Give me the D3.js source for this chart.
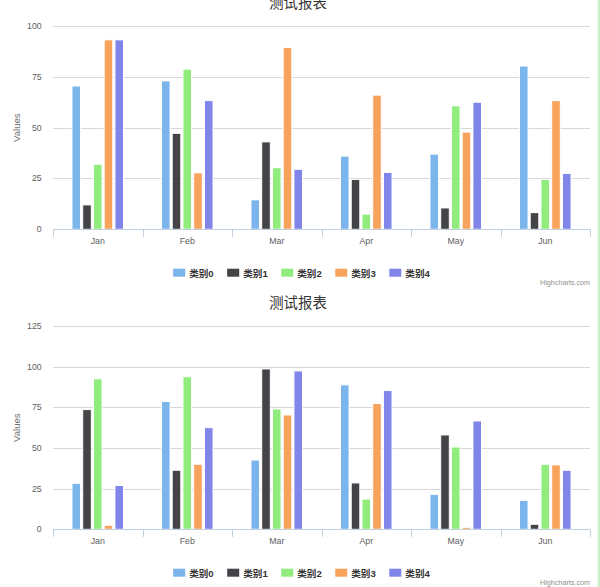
<!DOCTYPE html>
<html>
<head>
<meta charset="utf-8">
<script src="https://cdn.jsdelivr.net/npm/d3@7"></script>
<style>
  body { margin: 0; background: #fff; overflow: hidden; }
  svg { display: block; }
</style>
</head>
<body>
<div id="chart"></div>
<script>
// #####################################################
// Data
//
var months = ["Jan", "Feb", "Mar", "Apr", "May", "Jun"];
var seriesNames = ["类别0", "类别1", "类别2", "类别3", "类别4"];
var chartTitle = "测试报表";
var yTitle = "Values";

// first report
var top0 = [70.5, 73, 14.5, 36, 37, 80.3];
var top1 = [12, 47.2, 43, 24.5, 10.5, 8.2];
var top2 = [32, 78.8, 30.3, 7.5, 60.7, 24.5];
var top3 = [93.2, 27.8, 89.5, 66, 47.8, 63.3];
var top4 = [93.2, 63.3, 29.5, 28, 62.5, 27.5];
var topTicks = [0, 25, 50, 75, 100];

// second report
var bottom0 = [28.3, 78.6, 42.6, 88.8, 21.5, 17.8];
var bottom1 = [73.6, 36.3, 98.6, 28.5, 58, 3.1];
var bottom2 = [92.5, 93.8, 74, 18.6, 50.6, 40];
var bottom3 = [2.5, 40, 70.3, 77.3, 1.2, 39.6];
var bottom4 = [26.9, 62.5, 97.4, 85.3, 66.6, 36.3];
var bottomTicks = [0, 25, 50, 75, 100, 125];

var colors = ["#7cb5ec", "#434348", "#90ed7d", "#f7a35c", "#8085e9"];
var latinFont = "'Liberation Sans', Arial, 'Noto Sans CJK SC', sans-serif";

var width = 600, height = 587;

var svg = d3.select("#chart").append("svg")
    .attr("width", width)
    .attr("height", height);

// thin green strip on the right edge of the page
svg.append("rect")
    .attr("x", 597.7).attr("y", 0)
    .attr("width", 3).attr("height", height)
    .style("fill", "#c8efcb");

// #####################################################
// Draw one column chart, offset vertically by dy
//
function plot_chart (series, ticks, dy) {
  var margin = {left: 53, right: 590, top: 26, bottom: 229.3};

  var g = svg.append("g")
      .attr("transform", "translate(0," + dy + ")");

  var x = d3.scaleBand()
      .domain(months)
      .range([margin.left, margin.right]);

  var xs = d3.scaleBand()
      .domain(seriesNames)
      .range([x.bandwidth() * 0.2, x.bandwidth() * 0.8])
      .paddingInner(0.2)
      .paddingOuter(0.1);

  var y = d3.scaleLinear()
      .domain([0, d3.max(ticks)])
      .range([margin.bottom, margin.top]);

  // title (the top one is partly scrolled out of view, as in the page)
  g.append("text")
      .attr("x", 298).attr("y", 8)
      .attr("text-anchor", "middle")
      .style("font-family", "'Noto Sans CJK SC', sans-serif")
      .style("font-size", "14.4px")
      .style("fill", "#333333")
      .text(chartTitle);

  // grid lines
  g.selectAll(".grid")
      .data(ticks)
      .enter().append("line")
        .attr("x1", margin.left).attr("x2", margin.right)
        .attr("y1", function (d) { return Math.round(y(d)) + 0.5; })
        .attr("y2", function (d) { return Math.round(y(d)) + 0.5; })
        .style("stroke", "#d8d8d8")
        .style("stroke-width", 1);

  // y labels
  g.selectAll(".ylab")
      .data(ticks)
      .enter().append("text")
        .attr("x", 41.7)
        .attr("y", function (d) { return y(d) + 3; })
        .attr("text-anchor", "end")
        .style("font-family", latinFont)
        .style("font-size", "8.8px")
        .style("fill", "#606060")
        .text(function (d) { return d; });

  // y title
  g.append("text")
      .attr("transform", "translate(19.5," + ((margin.top + margin.bottom) / 2) + ") rotate(-90)")
      .attr("text-anchor", "middle")
      .style("font-family", latinFont)
      .style("font-size", "9.6px")
      .style("fill", "#707070")
      .text(yTitle);

  // columns
  series.forEach(function (values, i) {
    g.selectAll(".bar" + i)
        .data(values)
        .enter().append("rect")
          .attr("x", function (d, j) { return x(months[j]) + xs(seriesNames[i]); })
          .attr("y", function (d) { return y(d); })
          .attr("width", xs.bandwidth())
          .attr("height", function (d) { return y(0) - y(d); })
          .style("fill", colors[i])
          .style("stroke", "#ffffff")
          .style("stroke-width", 1);
  });

  // x axis line and ticks between categories
  var xAxis = g.append("g");
  xAxis.append("line")
      .attr("x1", margin.left).attr("x2", margin.right)
      .attr("y1", Math.round(y(0)) + 0.5).attr("y2", Math.round(y(0)) + 0.5)
      .style("stroke", "#c0d0e0");

  var edges = months.map(function (m) { return x(m); }).concat([margin.right]);
  xAxis.selectAll(".tick")
      .data(edges)
      .enter().append("line")
        .attr("x1", function (d) { return Math.round(d) + 0.5; })
        .attr("x2", function (d) { return Math.round(d) + 0.5; })
        .attr("y1", y(0)).attr("y2", y(0) + 7.5)
        .style("stroke", "#c0d0e0");

  xAxis.selectAll(".xlab")
      .data(months)
      .enter().append("text")
        .attr("x", function (d) { return x(d) + x.bandwidth() / 2; })
        .attr("y", y(0) + 14.5)
        .attr("text-anchor", "middle")
        .style("font-family", latinFont)
        .style("font-size", "8.8px")
        .style("fill", "#606060")
        .text(function (d) { return d; });

  // legend
  var legend = g.append("g");
  var pos = 0;
  seriesNames.forEach(function (name, i) {
    var item = legend.append("g")
        .attr("transform", "translate(" + pos + ",0)");
    item.append("rect")
        .attr("x", 0).attr("y", 268.7)
        .attr("width", 12).attr("height", 8)
        .style("fill", colors[i]);
    var t = item.append("text")
        .attr("x", 16).attr("y", 277.2)
        .style("font-family", latinFont)
        .style("font-size", "9.6px")
        .style("font-weight", "bold")
        .style("fill", "#333333")
        .text(name);
    pos += 16 + t.node().getComputedTextLength() + 13.5;
  });
  var legendWidth = pos - 13.5;
  legend.attr("transform", "translate(" + (301.5 - legendWidth / 2) + ",0)");

  // credits
  g.append("text")
      .attr("x", 590).attr("y", 285)
      .attr("text-anchor", "end")
      .style("font-family", latinFont)
      .style("font-size", "7.2px")
      .style("fill", "#909090")
      .text("Highcharts.com");
}

plot_chart([top0, top1, top2, top3, top4], topTicks, 0);
plot_chart([bottom0, bottom1, bottom2, bottom3, bottom4], bottomTicks, 300);
</script>
</body>
</html>
